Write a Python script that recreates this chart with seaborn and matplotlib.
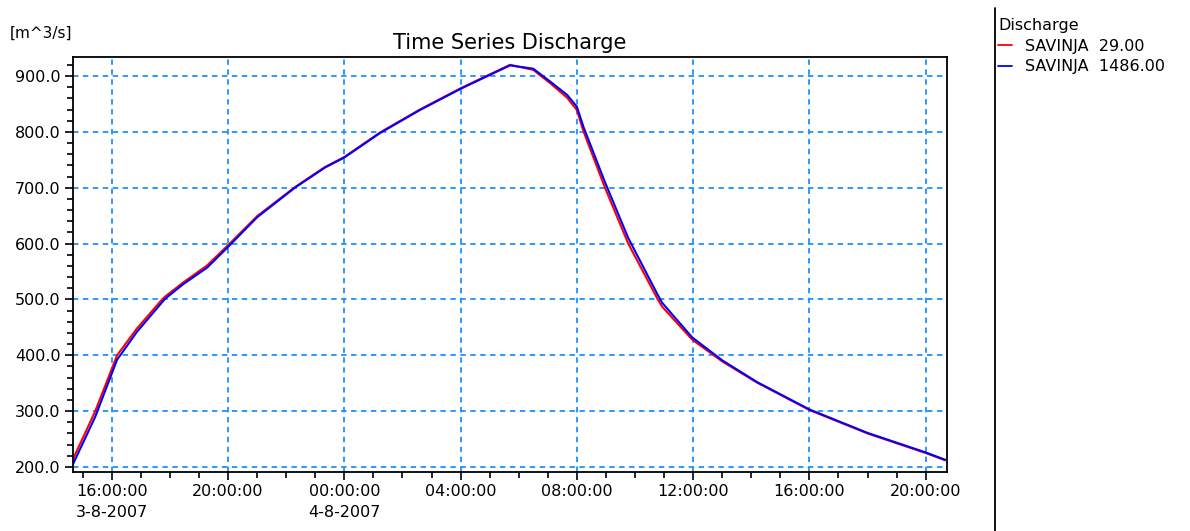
import pandas as pd
import seaborn as sns
import matplotlib.pyplot as plt
import matplotlib.dates as mdates
from matplotlib.lines import Line2D
from matplotlib.ticker import MultipleLocator

# time series values
times = ['2007-08-03 14:40', '2007-08-03 15:26', '2007-08-03 16:11', '2007-08-03 16:52',
         '2007-08-03 17:44', '2007-08-03 17:50', '2007-08-03 18:27', '2007-08-03 19:17',
         '2007-08-03 20:00', '2007-08-03 21:00', '2007-08-03 22:18', '2007-08-03 23:20',
         '2007-08-04 00:00', '2007-08-04 01:14', '2007-08-04 02:36', '2007-08-04 04:00',
         '2007-08-04 04:46', '2007-08-04 05:42', '2007-08-04 06:30', '2007-08-04 07:05',
         '2007-08-04 07:40', '2007-08-04 08:00', '2007-08-04 08:14', '2007-08-04 08:58',
         '2007-08-04 09:46', '2007-08-04 10:47', '2007-08-04 10:56', '2007-08-04 11:58',
         '2007-08-04 13:00', '2007-08-04 14:12', '2007-08-04 16:00', '2007-08-04 18:00',
         '2007-08-04 20:00', '2007-08-04 20:40']
savinja_29 = [214, 300, 400, 448, 500, 505, 530, 561, 597, 649, 701, 737, 755, 799, 840, 878,
              897, 920, 911, 887, 861, 839, 800, 700, 600, 500, 487, 428, 389, 351, 302, 260,
              225, 212]
savinja_1486 = [205, 290, 392, 442, 495, 501, 527, 557, 594, 647, 700, 736, 754, 798, 839, 877,
                896, 919, 913, 890, 866, 845, 808, 710, 610, 508, 494, 432, 391, 352, 303, 261,
                226, 213]
series_names = ['SAVINJA  29.00', 'SAVINJA  1486.00']
series_colors = ['#ff0000', '#0000ff']

tick_times = ['2007-08-03 16:00', '2007-08-03 20:00', '2007-08-04 00:00', '2007-08-04 04:00',
              '2007-08-04 08:00', '2007-08-04 12:00', '2007-08-04 16:00', '2007-08-04 20:00']
tick_labels = ['16:00:00\n3-8-2007', '20:00:00', '00:00:00\n4-8-2007', '04:00:00',
               '08:00:00', '12:00:00', '16:00:00', '20:00:00']

df = pd.concat([
    pd.DataFrame({'time': pd.to_datetime(times), 'discharge': savinja_29, 'series': series_names[0]}),
    pd.DataFrame({'time': pd.to_datetime(times), 'discharge': savinja_1486, 'series': series_names[1]}),
])

sns.set_style('white')
plt.rcParams['font.family'] = ['DejaVu Sans']
plt.rcParams.update({'text.color': 'black', 'xtick.color': 'black', 'ytick.color': 'black',
                     'axes.labelcolor': 'black'})

fig = plt.figure(figsize=(11.9, 5.31), dpi=100)
ax = fig.add_axes([73 / 1190, 1 - 472 / 531, (947 - 73) / 1190, (472 - 57) / 531])

sns.lineplot(data=df, x='time', y='discharge', hue='series',
             palette=dict(zip(series_names, series_colors)), linewidth=1.5,
             legend=False, ax=ax)

ax.set_xlim(pd.Timestamp('2007-08-03 14:40'), pd.Timestamp('2007-08-04 20:44'))
ax.set_ylim(191, 934)

ax.set_xticks(pd.to_datetime(tick_times))
ax.set_xticklabels(tick_labels, fontsize=11.5, linespacing=1.45)
ax.xaxis.set_minor_locator(mdates.HourLocator())
ax.yaxis.set_major_locator(MultipleLocator(100))
ax.yaxis.set_minor_locator(MultipleLocator(20))
ax.yaxis.set_major_formatter(lambda v, p: f'{v:.1f}')
ax.tick_params(axis='y', labelsize=11.5)
ax.tick_params(which='major', direction='out', length=6, width=1.2, color='black',
               bottom=True, left=True, pad=3)
ax.tick_params(which='minor', direction='out', length=4, width=1.2, color='black',
               bottom=True, left=True)

ax.grid(True, which='major', color='#1e90ff', linestyle=(0, (3, 2.5)), linewidth=1.3)
ax.set_axisbelow(True)
for s in ax.spines.values():
    s.set_color('black')
    s.set_linewidth(1.3)

ax.set_xlabel('')
ax.set_ylabel('')
ax.set_title('Time Series Discharge', fontsize=15, pad=6, color='black')
fig.text(72 / 1190, 1 - 33 / 531, '[m^3/s]', ha='right', va='center', fontsize=11)

# legend panel on the right
fig.add_artist(Line2D([995 / 1190, 995 / 1190], [0, 1 - 8 / 531], color='black', linewidth=1.3))
handles = [Line2D([0], [0], color=c, linewidth=1.3, label=n)
           for n, c in zip(series_names, series_colors)]
leg = fig.legend(handles=handles, loc='upper left', bbox_to_anchor=(998 / 1190, 1 - 18 / 531),
                 frameon=False, title='Discharge', fontsize=11.5, title_fontsize=11.5,
                 handlelength=0.9, handletextpad=0.8, labelspacing=0.35, borderpad=0,
                 borderaxespad=0)
leg._legend_box.align = 'left'

fig.savefig('out.png', dpi=100)
